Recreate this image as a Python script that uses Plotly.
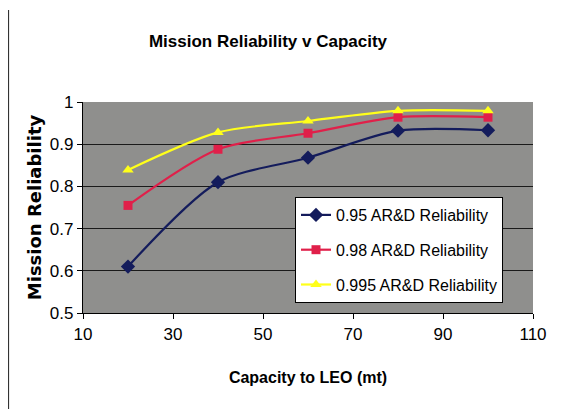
import plotly.graph_objects as go

capacity = [20, 40, 60, 80, 100]
rel_095 = [0.61, 0.81, 0.868, 0.932, 0.933]
rel_098 = [0.755, 0.888, 0.926, 0.964, 0.964]
rel_0995 = [0.839, 0.928, 0.955, 0.979, 0.979]
series_names = ["0.95 AR&D Reliability", "0.98 AR&D Reliability", "0.995 AR&D Reliability"]
x_ticks = [10, 30, 50, 70, 90, 110]
y_ticks = [0.5, 0.6, 0.7, 0.8, 0.9, 1.0]
y_tick_labels = ["0.5", "0.6", "0.7", "0.8", "0.9", "1"]

styles = [
    dict(color="#141c5c", symbol="diamond", size=11),
    dict(color="#e0204a", symbol="square", size=9),
    dict(color="#ffff1a", symbol="triangle-up", size=10),
]

fig = go.Figure()
for i, (name, ys, st) in enumerate(zip(series_names, [rel_095, rel_098, rel_0995], styles)):
    fig.add_trace(go.Scatter(
        x=capacity, y=ys, name=name, mode="lines+markers",
        line=dict(color=st["color"], width=2.2, shape="spline", smoothing=0.8),
        marker=dict(color=st["color"], symbol=st["symbol"], size=st["size"]),
        legendgroup=f"g{i}",
    ))

# page has an 8px body margin, so figure coords = reference coords - 8
W, H = 579, 401
L, T = 75, 94
PW, PH = 450, 211
R, B = W - L - PW, H - T - PH

fig.update_layout(
    width=W, height=H,
    margin=dict(l=L, r=R, t=T, b=B, autoexpand=False),
    paper_bgcolor="white",
    plot_bgcolor="#8f8f8d",
    title=dict(text="<b>Mission Reliability v Capacity</b>", x=260 / W, xanchor="center",
               y=1 - 33 / H, yanchor="middle",
               font=dict(family="Liberation Sans Narrow, Arial Narrow, Liberation Sans, Arial", size=17, color="black")),
    font=dict(family="Liberation Sans, Arial", color="black"),
    showlegend=True,
    legend=dict(
        x=(287 - L) / PW, xanchor="left",
        y=1 - (189 - T) / PH, yanchor="top",
        bgcolor="white", bordercolor="black", borderwidth=1,
        font=dict(family="Liberation Sans Narrow, Arial Narrow, Liberation Sans, Arial", size=16, color="black"),
        traceorder="grouped", tracegroupgap=11,
        itemwidth=30,
    ),
    xaxis=dict(
        range=[10, 110], tickvals=x_ticks, ticktext=[str(t) for t in x_ticks],
        showgrid=False, zeroline=False, automargin=False,
        showline=True, linecolor="black", linewidth=1.2,
        ticks="outside", ticklen=5, tickcolor="black",
        tickfont=dict(family="Liberation Sans, Arial", size=17),
        title=dict(text="<b>Capacity to LEO (mt)</b>",
                   font=dict(family="Liberation Sans Narrow, Arial Narrow, Liberation Sans, Arial", size=16), standoff=29),
    ),
    yaxis=dict(
        range=[0.5, 1.0], tickvals=y_ticks, ticktext=y_tick_labels,
        showgrid=True, gridcolor="#1a1a1a", gridwidth=1.2, zeroline=False, automargin=False,
        showline=True, linecolor="black", linewidth=1.2,
        ticks="outside", ticklen=5, tickcolor="black",
        tickfont=dict(family="Liberation Sans, Arial", size=17),
        title=dict(text="<b>Mission Reliability</b>",
                   font=dict(family="DejaVu Sans", size=18), standoff=3),
    ),
    shapes=[
        dict(type="line", xref="paper", yref="paper",
             x0=(0.5 - L) / PW, x1=(0.5 - L) / PW, y0=-B / PH, y1=1 + (T - 2) / PH,
             line=dict(color="#333333", width=1.2)),
    ],
)

fig.write_html("out.html")
